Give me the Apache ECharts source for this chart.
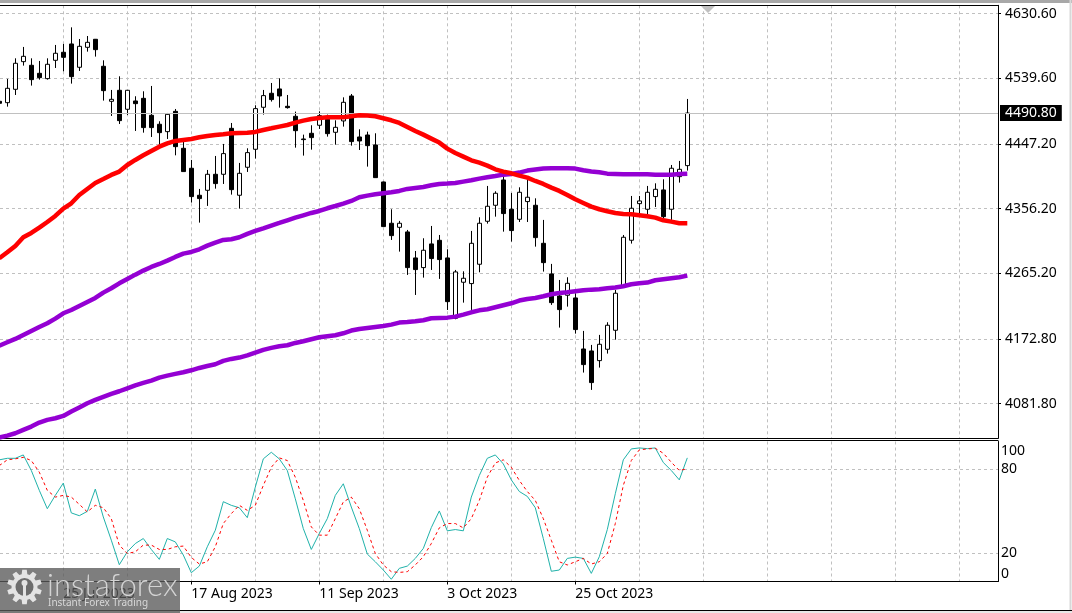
<!DOCTYPE html>
<html><head><meta charset="utf-8">
<style>html,body{margin:0;padding:0;background:#fff;overflow:hidden}#c{width:1072px;height:613px}</style>
<script src="https://cdn.jsdelivr.net/npm/echarts@6/dist/echarts.min.js"></script>
</head><body><div id="c"></div>
<script>
const opens=[4507.3,4505.4,4524.2,4563.1,4558.0,4546.7,4539.2,4565.0,4576.3,4588.0,4555.2,4583.3,4594.6,4556.6,4507.3,4522.8,4496.1,4507.8,4511.5,4487.6,4475.0,4464.6,4493.2,4441.2,4413.1,4375.1,4382.1,4404.6,4404.6,4469.3,4375.1,4414.5,4439.8,4498.9,4518.6,4524.7,4500.3,4486.2,4454.3,4462.3,4473.6,4482.0,4463.7,4479.7,4514.8,4457.1,4459.9,4445.9,4393.8,4335.7,4330.0,4323.5,4286.9,4273.3,4306.6,4311.7,4286.9,4202.0,4252.7,4250.8,4278.0,4338.5,4361.0,4396.6,4355.4,4341.3,4366.2,4361.0,4307.5,4264.4,4233.4,4234.4,4230.6,4158.8,4156.0,4142.4,4158.4,4185.1,4246.6,4311.8,4363.3,4355.4,4373.2,4382.6,4355.4,4401.3,4416.8];
const closes=[4504.5,4525.6,4560.8,4570.6,4537.8,4540.6,4559.4,4574.9,4569.2,4542.0,4584.7,4590.3,4580.0,4522.3,4510.1,4480.1,4522.8,4504.0,4470.3,4470.3,4463.2,4489.0,4443.5,4408.4,4373.2,4370.4,4404.6,4391.5,4433.7,4383.0,4406.0,4435.1,4497.0,4515.3,4509.7,4514.8,4498.4,4466.0,4453.4,4456.2,4487.2,4461.8,4470.7,4505.9,4450.6,4451.5,4444.9,4399.9,4331.0,4318.3,4335.7,4273.3,4270.5,4297.7,4286.0,4284.6,4225.4,4267.2,4258.3,4307.5,4335.7,4359.6,4377.9,4349.3,4325.4,4379.3,4372.3,4315.5,4280.3,4224.0,4214.2,4251.2,4186.1,4136.8,4111.5,4165.4,4192.2,4237.2,4316.0,4356.8,4367.1,4379.3,4383.5,4345.0,4413.1,4411.6,4490.8];
const highs=[4507.3,4538.8,4567.8,4583.8,4567.8,4564.1,4567.8,4586.6,4588.0,4611.4,4595.0,4599.2,4595.0,4565.0,4523.3,4542.5,4523.3,4514.4,4521.4,4528.9,4479.2,4490.9,4496.5,4452.0,4424.8,4384.0,4410.7,4430.4,4447.3,4476.8,4420.6,4441.2,4501.7,4523.3,4533.1,4539.7,4516.2,4492.8,4460.4,4473.6,4493.2,4488.6,4480.6,4512.9,4517.6,4467.9,4464.6,4462.3,4394.3,4355.4,4339.0,4326.3,4296.7,4314.6,4331.9,4319.2,4299.1,4270.0,4268.1,4324.9,4344.1,4388.2,4380.7,4401.3,4378.3,4386.3,4401.3,4370.8,4340.4,4278.5,4255.9,4259.7,4237.2,4184.2,4164.5,4178.6,4196.4,4241.9,4319.2,4374.1,4374.1,4388.2,4391.9,4397.6,4417.7,4423.4,4510.6];
const lows=[4504.5,4499.8,4516.2,4557.5,4529.4,4537.8,4537.8,4554.2,4549.5,4532.2,4550.0,4577.2,4570.2,4508.3,4486.7,4475.4,4488.1,4465.6,4463.2,4457.1,4444.5,4454.3,4431.3,4408.4,4364.8,4336.6,4360.1,4384.4,4391.0,4376.0,4356.3,4407.9,4426.7,4488.6,4506.9,4498.4,4497.0,4442.1,4430.9,4439.3,4468.4,4457.6,4446.3,4471.7,4444.9,4438.8,4415.4,4399.9,4331.0,4312.2,4295.8,4263.0,4234.8,4259.2,4270.0,4257.4,4213.7,4200.6,4224.0,4213.7,4266.7,4335.2,4345.0,4323.9,4309.9,4337.5,4337.5,4302.8,4267.7,4220.8,4188.9,4218.4,4180.4,4125.6,4101.2,4132.6,4152.3,4171.9,4246.6,4307.1,4349.7,4348.3,4358.6,4340.4,4340.4,4392.9,4409.8];
const maRed=[4286.4,4294.9,4303.8,4316.0,4322.1,4329.6,4337.5,4346.0,4356.3,4363.8,4375.5,4384.0,4392.4,4398.0,4403.7,4408.4,4417.7,4424.8,4431.3,4437.4,4443.5,4448.2,4451.5,4452.9,4454.3,4456.7,4458.6,4460.0,4460.9,4462.3,4462.8,4463.2,4464.2,4467.0,4469.3,4471.7,4474.0,4477.3,4480.1,4482.5,4483.9,4484.8,4484.8,4484.8,4486.2,4487.6,4487.2,4486.2,4483.4,4480.6,4476.8,4471.2,4465.6,4460.4,4454.8,4449.2,4440.7,4434.6,4429.5,4424.3,4421.0,4416.8,4411.6,4408.4,4406.0,4402.7,4399.9,4395.2,4391.0,4385.8,4381.2,4375.5,4369.4,4364.3,4359.1,4355.4,4352.6,4350.2,4348.8,4348.3,4346.9,4345.5,4343.6,4339.9,4338.0,4335.7,4335.7];
const maUpperPurple=[4163.5,4168.2,4172.9,4178.6,4184.2,4189.8,4195.0,4201.5,4209.0,4213.7,4219.4,4225.0,4230.6,4238.1,4244.2,4251.2,4257.3,4263.4,4269.1,4274.2,4278.4,4283.1,4288.3,4293.0,4295.3,4299.1,4304.2,4308.5,4312.2,4313.2,4316.0,4320.7,4324.9,4328.6,4332.4,4336.1,4339.9,4343.6,4346.9,4350.2,4353.0,4356.8,4360.0,4363.3,4367.1,4372.2,4374.6,4376.5,4377.9,4379.3,4381.2,4384.0,4385.4,4386.8,4389.1,4391.0,4391.5,4392.4,4394.3,4396.2,4398.5,4400.4,4402.2,4404.1,4405.1,4407.0,4409.8,4411.2,4412.6,4413.1,4413.1,4413.1,4412.6,4410.2,4408.4,4407.4,4405.5,4405.1,4404.6,4404.6,4404.6,4404.6,4404.1,4404.1,4404.1,4405.1,4405.5];
const maLowerPurple=[4034.1,4036.9,4040.2,4044.9,4049.6,4055.2,4059.0,4061.3,4064.6,4070.7,4076.3,4082.4,4087.1,4091.3,4095.5,4099.3,4103.5,4107.7,4111.0,4114.3,4118.5,4121.3,4123.7,4126.0,4128.8,4132.1,4134.9,4137.3,4142.0,4144.8,4146.7,4149.9,4153.7,4157.5,4160.3,4162.6,4164.0,4167.3,4169.6,4172.5,4175.3,4176.7,4178.1,4180.9,4184.7,4187.0,4188.4,4189.8,4191.2,4193.1,4195.9,4196.8,4197.8,4199.2,4202.0,4202.5,4202.9,4204.3,4207.2,4210.4,4213.2,4214.7,4217.5,4220.3,4223.1,4226.9,4229.2,4230.6,4233.0,4235.8,4237.6,4238.6,4240.0,4241.4,4242.3,4242.8,4244.2,4245.2,4247.0,4249.8,4251.2,4252.2,4255.5,4256.9,4258.3,4259.7,4262.0];
const stochMain=[86.9,88.0,88.0,90.4,79.3,65.1,52.0,61.5,70.3,49.0,47.0,50.1,66.0,46.1,29.5,12.0,21.2,27.1,30.7,22.9,15.8,30.7,28.3,18.9,6.3,11.0,24.8,36.6,57.0,54.4,52.7,45.6,67.4,87.6,92.3,87.6,79.3,59.1,37.8,22.9,34.3,44.9,61.5,69.8,53.2,37.8,19.6,14.1,8.2,1.6,9.4,11.0,16.5,23.6,38.5,50.4,36.2,37.1,36.2,60.3,75.7,88.0,90.4,84.0,72.6,64.3,60.8,52.7,30.7,7.3,8.2,16.5,17.4,16.5,5.8,17.7,37.1,62.7,86.9,94.7,95.4,94.9,95.4,85.0,79.3,72.6,88.3];
const stochSignal=[82.8,86.9,87.6,88.7,86.4,78.1,65.1,60.3,61.5,60.3,55.1,49.7,54.4,52.7,44.9,26.0,20.0,21.2,26.0,26.0,22.9,22.9,24.8,25.3,17.2,12.5,14.1,24.8,41.4,48.5,54.4,50.8,54.4,68.6,81.6,88.3,86.4,74.5,57.9,39.0,33.1,33.1,44.9,56.8,60.3,52.0,36.6,20.0,11.8,7.0,6.5,7.0,11.8,17.7,27.1,38.3,41.4,41.4,38.3,44.9,57.9,74.5,84.7,86.9,81.6,72.2,64.3,57.9,44.9,29.5,14.1,11.8,14.1,16.5,12.5,14.1,20.0,41.4,68.6,86.4,94.0,94.7,95.1,91.6,85.2,79.3,80.5];
const priceTicks=[4630.6,4539.6,4447.2,4356.2,4265.2,4172.8,4081.8];
const lastPrice=4490.8;
const stochTicks=[0,20,80,100];
const dateLabels=['25 Jul 2023','17 Aug 2023','11 Sep 2023','3 Oct 2023','25 Oct 2023'];
const dateBars=[8,24,40,56,72];
const gridBars=[8,16,24,32,40,48,56,64,72,80,88,96,104,112,120];

const candles=opens.map((o,i)=>[i,o,closes[i],lows[i],highs[i]]);
const pts=a=>a.map((v,i)=>[i,v]);
const FONT='"Noto Sans"';
const XMIN=0.0875, XMAX=124.8375;
const dashed={show:true,lineStyle:{color:'#c0c0c0',type:[3,3],width:1}};
const xBase={type:'value',min:XMIN,max:XMAX,axisLabel:{show:false},axisTick:{show:false},splitLine:{show:false},axisLine:{show:false}};

// gear mark for the watermark
const gear=[];const cx=24.5,cy=587;
for(let i=0;i<10;i++){for(const [da,r] of [[-0.22,13],[-0.13,17.5],[0.13,17.5],[0.22,13]]){
  const a=(i+0.5)*Math.PI/5+da;gear.push([cx+r*Math.cos(a),cy+r*Math.sin(a)]);}}

const chart=echarts.init(document.getElementById('c'),null,{renderer:'canvas'});
chart.setOption({
  animation:false,backgroundColor:'#fff',
  grid:[
    {left:0,top:5.3,width:998,height:433,containLabel:false},
    {left:0,top:441.5,width:998,height:140,containLabel:false}
  ],
  xAxis:[
    Object.assign({},xBase,{gridIndex:0,position:'bottom',axisLine:{show:true,lineStyle:{color:'#000',width:1}}}),
    Object.assign({},xBase,{gridIndex:0,position:'top',axisTick:{show:false,customValues:gridBars},splitLine:dashed}),
    Object.assign({},xBase,{gridIndex:1,position:'bottom',
      axisLine:{show:true,lineStyle:{color:'#000',width:1}},
      axisTick:{show:true,customValues:dateBars,length:3,inside:false,lineStyle:{color:'#000'}},
      axisLabel:{show:true,customValues:dateBars,hideOverlap:false,showMinLabel:true,showMaxLabel:true,
        fontFamily:FONT,fontSize:14,color:'#000',align:'left',margin:6,
        formatter:v=>dateLabels[dateBars.indexOf(v)]||''}}),
    Object.assign({},xBase,{gridIndex:1,position:'top',axisTick:{show:false,customValues:gridBars},splitLine:dashed})
  ],
  yAxis:[
    {type:'value',gridIndex:0,position:'right',min:4033.1,max:4642.4,
     axisLine:{show:true,lineStyle:{color:'#000',width:1}},
     axisTick:{show:true,customValues:priceTicks,length:3,lineStyle:{color:'#000'}},
     axisLabel:{customValues:priceTicks,fontFamily:FONT,fontSize:14,color:'#000',margin:7,padding:[2,0,0,0],formatter:v=>v.toFixed(2)},
     splitLine:dashed},
    {type:'value',gridIndex:1,position:'right',min:0,max:100,
     axisLine:{show:true,lineStyle:{color:'#000',width:1}},
     axisTick:{show:false,customValues:[20,80]},
     axisLabel:{customValues:stochTicks,fontFamily:FONT,fontSize:14,color:'#000',margin:3,padding:[3,0,0,0],
       verticalAlignMaxLabel:'top',verticalAlignMinLabel:'bottom',
       showMinLabel:true,showMaxLabel:true,formatter:v=>String(v)},
     splitLine:dashed}
  ],
  series:[
    {type:'candlestick',xAxisIndex:0,yAxisIndex:0,barWidth:4,data:candles,encode:{x:0,y:[1,2,3,4]},z:3,silent:true,
     itemStyle:{color:'#fff',color0:'#000',borderColor:'#000',borderColor0:'#000',borderWidth:1},
     markLine:{silent:true,symbol:'none',animation:false,
       lineStyle:{color:'#c0c0c0',type:'solid',width:1},
       label:{show:true,position:'end',distance:2,backgroundColor:'#000',color:'#fff',fontFamily:FONT,fontSize:14,padding:[2,5,0,5],formatter:p=>p.value.toFixed(2)},
       data:[{yAxis:lastPrice}]}},
    {type:'line',xAxisIndex:0,yAxisIndex:0,data:pts(maLowerPurple),showSymbol:false,z:4,lineStyle:{color:'#9400d3',width:4.5}},
    {type:'line',xAxisIndex:0,yAxisIndex:0,data:pts(maUpperPurple),showSymbol:false,z:4,lineStyle:{color:'#9400d3',width:4.5}},
    {type:'line',xAxisIndex:0,yAxisIndex:0,data:pts(maRed),showSymbol:false,z:5,lineStyle:{color:'#ff0000',width:4.5}},
    {type:'line',xAxisIndex:2,yAxisIndex:1,data:pts(stochMain),showSymbol:false,z:4,lineStyle:{color:'#20b2aa',width:1}},
    {type:'line',xAxisIndex:2,yAxisIndex:1,data:pts(stochSignal),showSymbol:false,z:4,lineStyle:{color:'#ff0000',width:1,type:[3,3]}}
  ],
  graphic:[
    {type:'rect',shape:{x:0,y:0,width:1072,height:3},style:{fill:'#a8a8a8'},z:20,silent:true},
    {type:'rect',shape:{x:1069.5,y:0,width:2,height:613},style:{fill:'#d8d8d8'},z:20,silent:true},
    {type:'rect',shape:{x:0,y:5,width:998.5,height:1},style:{fill:'#000'},z:20,silent:true},
    {type:'rect',shape:{x:0,y:440,width:998.5,height:1},style:{fill:'#000'},z:20,silent:true},
    {type:'rect',shape:{x:0,y:610,width:1072,height:1},style:{fill:'#000'},z:20,silent:true},
    {type:'rect',shape:{x:0,y:611,width:1072,height:2},style:{fill:'#e8e8e8'},z:20,silent:true},
    {type:'polygon',shape:{points:[[701,6],[715,6],[708,13]]},style:{fill:'#c0c0c0'},z:20,silent:true},
    {type:'rect',shape:{x:0,y:568,width:180,height:45},style:{fill:'rgba(90,90,90,0.78)'},z:30,silent:true},
    {type:'polygon',shape:{points:gear},style:{fill:'#e4e4e4'},z:31,silent:true},
    {type:'circle',shape:{cx:cx,cy:cy,r:9},style:{fill:'#6e6e6e'},z:32,silent:true},
    {type:'circle',shape:{cx:cx,cy:cy-4,r:3},style:{fill:'#e4e4e4'},z:33,silent:true},
    {type:'rect',shape:{x:cx-1.5,y:cy-2,width:3,height:19},style:{fill:'#e4e4e4'},z:33,silent:true},
    {type:'text',left:47,top:570,style:{text:'instaforex',fill:'#d8d8d8',font:'300 31px Lato',opacity:0.95},z:34,silent:true},
    {type:'text',left:48,top:598,style:{text:'Instant Forex Trading',fill:'#d8d8d8',font:'10px "Noto Sans"'},z:34,silent:true}
  ]
});
</script></body></html>
